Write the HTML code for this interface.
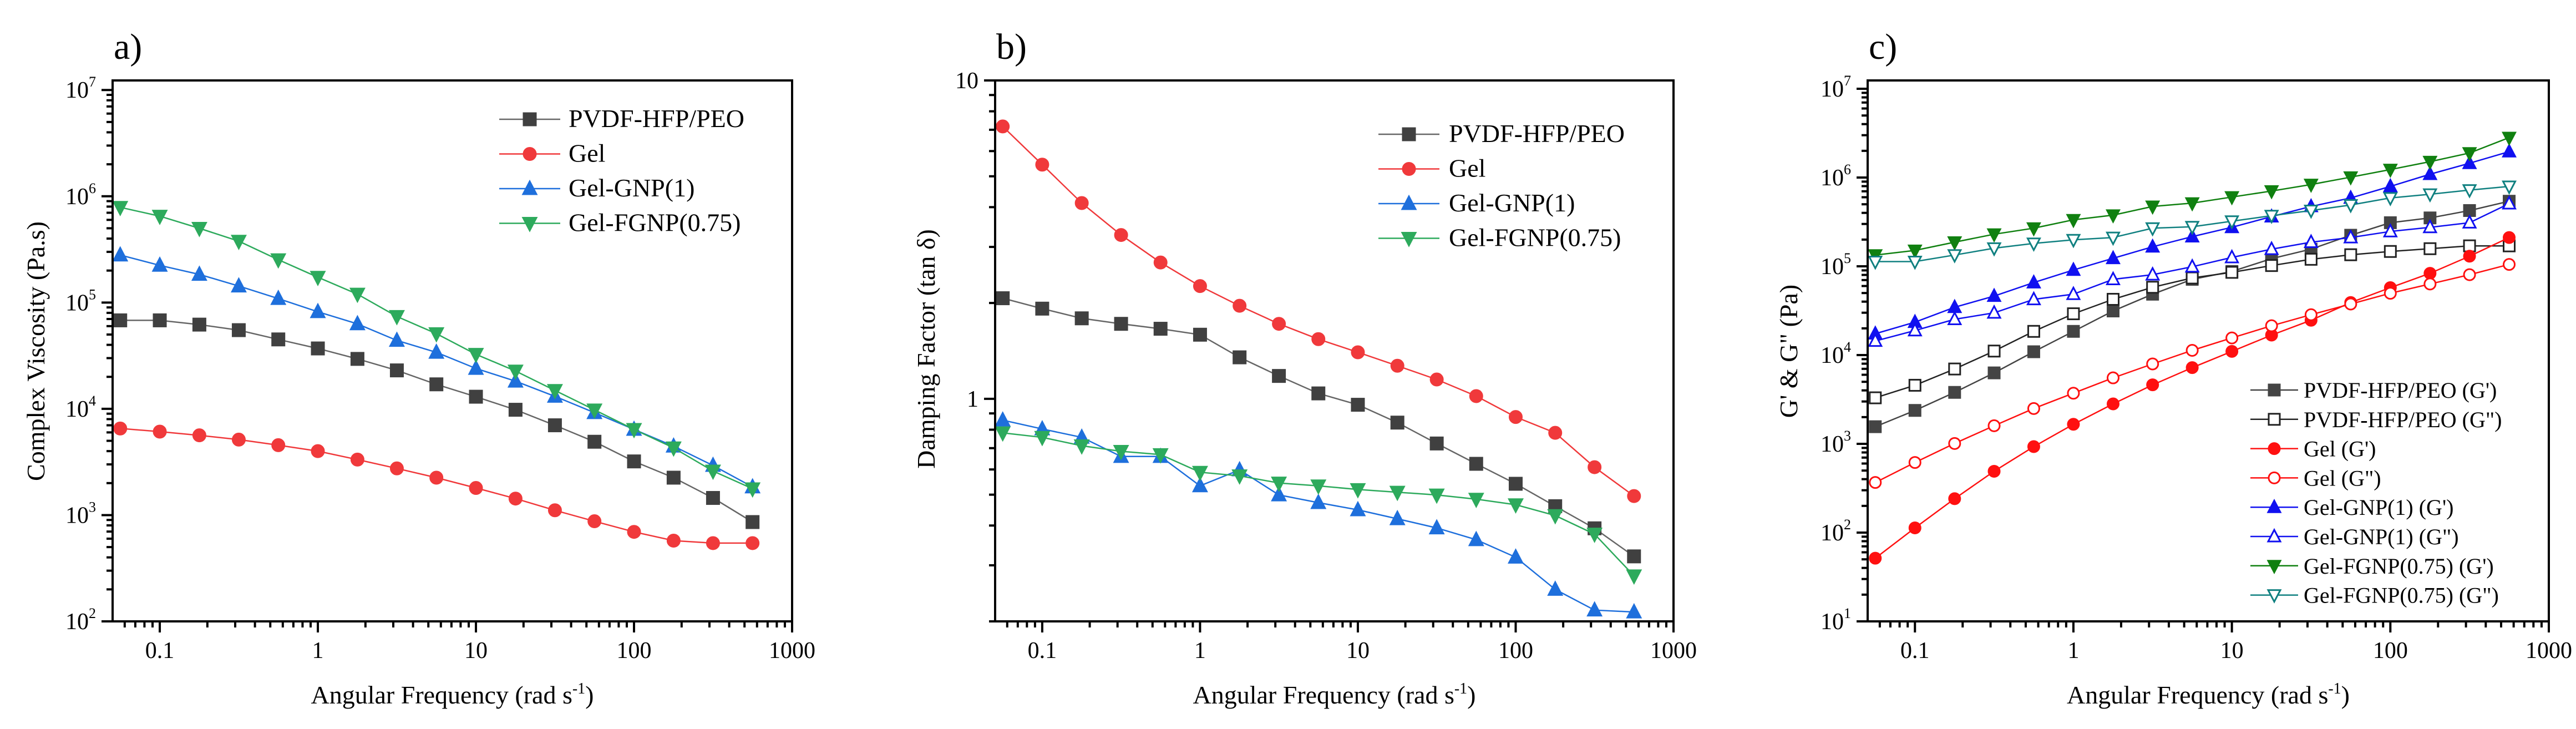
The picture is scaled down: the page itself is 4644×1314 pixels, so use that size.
<!DOCTYPE html>
<html><head><meta charset="utf-8">
<style>
html,body{margin:0;padding:0;background:#fff;}
svg{display:block;font-family:"Liberation Serif",serif;}
text{font-family:"Liberation Serif",serif;}
</style></head>
<body>
<svg id="fig" width="4644" height="1314" viewBox="0 0 4644 1314" xmlns="http://www.w3.org/2000/svg" font-family="Liberation Serif, serif"></svg>
<script>
// Shared frequency axis (rad/s)
const freqs = [0.0562,0.1,0.178,0.316,0.562,1,1.78,3.16,5.62,10,17.8,31.6,56.2,100,178,316,562];
const xTickLabels = ["0.1","1","10","100","1000"];

// Panel a: complex viscosity (Pa.s)
const aSeriesNames = ["PVDF-HFP/PEO","Gel","Gel-GNP(1)","Gel-FGNP(0.75)"];
const aPVDF = [68000,68000,62000,55000,45000,37000,29500,23000,17000,13000,9800,7000,4900,3200,2250,1450,860];
const aGel = [6530,6100,5630,5130,4550,4000,3330,2750,2250,1800,1430,1110,875,695,575,545,545];
const aGNP = [280000,224000,184000,143000,109000,82000,63000,44000,34000,24000,18200,13100,9200,6400,4450,2930,1840];
const aFGNP = [787000,650000,500000,378000,253000,173000,120000,74000,51000,32600,22700,14900,9770,6400,4290,2600,1770];
const aYTickExps = [2,3,4,5,6,7];

// Panel b: damping factor (tan delta)
const bSeriesNames = ["PVDF-HFP/PEO","Gel","Gel-GNP(1)","Gel-FGNP(0.75)"];
const bPVDF = [2.07,1.92,1.79,1.72,1.66,1.59,1.35,1.18,1.04,0.958,0.842,0.724,0.625,0.541,0.460,0.392,0.320];
const bGel = [7.17,5.44,4.12,3.27,2.68,2.26,1.96,1.72,1.54,1.40,1.27,1.15,1.02,0.877,0.782,0.610,0.495];
const bGNP = [0.857,0.804,0.757,0.659,0.659,0.533,0.598,0.499,0.472,0.448,0.420,0.393,0.361,0.318,0.252,0.217,0.214];
const bFGNP = [0.782,0.757,0.712,0.684,0.668,0.588,0.573,0.544,0.533,0.519,0.509,0.499,0.484,0.465,0.430,0.376,0.278];
const bYTickLabels = ["1","10"];

// Panel c: G' & G'' (Pa)
const cSeriesNames = ["PVDF-HFP/PEO (G')","PVDF-HFP/PEO (G\")","Gel (G')","Gel (G\")","Gel-GNP(1) (G')","Gel-GNP(1) (G\")","Gel-FGNP(0.75) (G')","Gel-FGNP(0.75) (G\")"];
const cPVDFg1 = [1560,2380,3800,6300,10900,18500,31400,48500,71300,87500,122000,156000,224000,310000,351000,425000,541000];
const cPVDFg2 = [3300,4570,6970,11100,18500,29200,42500,58100,73900,85500,102000,120000,135000,147000,158000,170000,170000];
const cGelg1 = [51.5,113,241,491,930,1660,2820,4620,7220,11000,16800,24700,39100,57500,83400,130000,211000];
const cGelg2 = [367,617,1010,1600,2500,3720,5540,7950,11300,15600,21400,28500,37600,49700,63200,80500,105000];
const cGNPg1 = [17400,23500,34600,46200,65600,90800,123000,166000,216000,275000,363000,473000,589000,795000,1090000,1450000,1960000];
const cGNPg2 = [14400,18900,25300,29900,42400,48500,71300,80500,98900,126000,156000,187000,211000,247000,275000,310000,509000];
const cFGNPg1 = [134000,151000,187000,230000,269000,334000,377000,473000,515000,603000,705000,834000,1010000,1230000,1510000,1890000,2820000];
const cFGNPg2 = [113000,113000,134000,160000,181000,199000,211000,269000,279000,322000,372000,425000,491000,589000,649000,723000,795000];
const cYTickExps = [1,2,3,4,5,6,7];

const NS = "http://www.w3.org/2000/svg";
const svg = document.getElementById('fig');
const FONT = '"Liberation Serif", serif';
function mk(tag, attrs, parent){
  const e = document.createElementNS(NS, tag);
  for (const k in attrs) e.setAttribute(k, attrs[k]);
  if (tag === 'text') e.setAttribute('font-family', FONT);
  (parent||svg).appendChild(e);
  return e;
}
const TOP = 145, BOT = 1120;

function makeAxes(left, right, ymin, ymax){
  const lx0 = Math.log10(0.0503), lx1 = 3;
  const ly0 = Math.log10(ymin), ly1 = Math.log10(ymax);
  return {
    x: v => left + (Math.log10(v) - lx0) / (lx1 - lx0) * (right - left),
    y: v => BOT - (Math.log10(v) - ly0) / (ly1 - ly0) * (BOT - TOP),
    left, right
  };
}

function marker(g, shape, cx, cy, color, filled, s){
  s = s || 11;
  const fill = filled ? color : '#fff';
  let el;
  if (shape === 'square') el = mk('rect', {x:cx-s, y:cy-s, width:2*s, height:2*s, fill, stroke:color, 'stroke-width':3}, g);
  else if (shape === 'circle') el = mk('circle', {cx, cy, r:s, fill, stroke:color, 'stroke-width':3}, g);
  else if (shape === 'up') el = mk('polygon', {points:`${cx},${cy-s-2} ${cx-s-1},${cy+s-1} ${cx+s+1},${cy+s-1}`, fill, stroke:color, 'stroke-width':3}, g);
  else el = mk('polygon', {points:`${cx},${cy+s+2} ${cx-s-1},${cy-s+1} ${cx+s+1},${cy-s+1}`, fill, stroke:color, 'stroke-width':3}, g);
  
  
}

function drawPanel(p){
  const ax = makeAxes(p.left, p.right, p.ymin, p.ymax);
  const g = mk('g', {});
  
  
  const lt = mk('text', {x:p.left+2, y:106, 'font-size':66}, g);
  lt.textContent = p.letter;
  
  
  p.series.forEach((s, si) => {
    const sg = mk('g', {}, g);
    
    
    const pts = s.vals.map((v,i) => ax.x(freqs[i]).toFixed(1) + ',' + ax.y(v).toFixed(1)).join(' ');
    const pl = mk('polyline', {points:pts, fill:'none', stroke:s.line||s.color, 'stroke-width':2.5}, sg);
    
    
    s.vals.forEach((v,i) => marker(sg, s.shape, ax.x(freqs[i]), ax.y(v), s.color, s.filled !== false, p.ms));
  });
  const fr = mk('rect', {x:p.left, y:TOP, width:p.right-p.left, height:BOT-TOP, fill:'none', stroke:'#000', 'stroke-width':4}, g);
  
  
  for (let d = -2; d <= 3; d++){
    for (let m = 1; m <= 9; m++){
      const v = m * Math.pow(10, d);
      if (v < 0.0503 || v > 1000.01) continue;
      const x = ax.x(v);
      mk('line', {x1:x, x2:x, y1:BOT, y2:BOT + (m===1 ? 20 : 11), stroke:'#000', 'stroke-width':4}, g);
    }
  }
  xTickLabels.forEach(t => {
    const tx = mk('text', {x:ax.x(parseFloat(t)), y:1186, 'font-size':42, 'text-anchor':'middle'}, g);
    tx.textContent = t;
    
    
  });
  const e0 = Math.floor(Math.log10(p.ymin)), e1 = Math.ceil(Math.log10(p.ymax));
  for (let d = e0; d <= e1; d++){
    for (let m = 1; m <= 9; m++){
      const v = m * Math.pow(10, d);
      if (v < p.ymin*0.999 || v > p.ymax) continue;
      const y = ax.y(v);
      mk('line', {x1:p.left - (m===1 ? 20 : 11), x2:p.left, y1:y, y2:y, stroke:'#000', 'stroke-width':4}, g);
    }
  }
  p.yLabels.forEach(l => {
    const y = ax.y(l.v);
    const tx = mk('text', {x:p.left - 30, y:y + 14, 'font-size':42, 'text-anchor':'end'}, g);
    if (l.exp !== undefined){
      tx.textContent = '10';
      const sp = mk('tspan', {'font-size':26, dy:-20}, tx);
      sp.textContent = String(l.exp);
    } else tx.textContent = l.text;
    
    
  });
  const xt = mk('text', {x:(p.left+p.right)/2, y:1268, 'font-size':46, 'text-anchor':'middle'}, g);
  xt.textContent = 'Angular Frequency (rad s';
  const sup = mk('tspan', {'font-size':28, dy:-18}, xt); sup.textContent = '-1';
  const cl = mk('tspan', {dy:18}, xt); cl.textContent = ')';
  
  
  const yt = mk('text', {x:0, y:0, 'font-size':46, 'text-anchor':'middle', transform:`translate(${p.ytx},${p.yty}) rotate(-90)`}, g);
  yt.textContent = p.ytitle;
  
  
  const lg = mk('g', {}, g);
  
  
  p.series.forEach((s, i) => {
    const y = p.leg.y0 + i * p.leg.dy;
    const eg = mk('g', {}, lg);
    
    
    mk('line', {x1:p.leg.x0, x2:p.leg.x1, y1:y, y2:y, stroke:s.line||s.color, 'stroke-width':2.5}, eg);
    marker(eg, s.shape, (p.leg.x0+p.leg.x1)/2, y, s.color, s.filled !== false, p.ms);
    const t = mk('text', {x:p.leg.tx, y:y + 14, 'font-size':p.leg.fs}, eg);
    t.textContent = s.name;
  });
}

const gray='#404040', red='#f0393b', blue='#1e6fdc', green='#2daa5c';
drawPanel({id:'panel-a', letter:'a)', left:203, right:1428, ymin:100, ymax:Math.pow(10,7.09), ms:11,
  yLabels:aYTickExps.map(e => ({v:Math.pow(10,e), exp:e})),
  ytitle:'Complex Viscosity (Pa.s)', ytx:80, yty:633,
  leg:{x0:900, x1:1010, tx:1025, y0:215, dy:62.5, fs:46},
  series:[
    {name:aSeriesNames[0], vals:aPVDF, color:gray, line:'#666', shape:'square'},
    {name:aSeriesNames[1], vals:aGel, color:red, shape:'circle'},
    {name:aSeriesNames[2], vals:aGNP, color:blue, shape:'up'},
    {name:aSeriesNames[3], vals:aFGNP, color:green, shape:'down'}]});
drawPanel({id:'panel-b', letter:'b)', left:1794, right:3017, ymin:0.2, ymax:10, ms:11,
  yLabels:bYTickLabels.map(t => ({v:parseFloat(t), text:t})),
  ytitle:'Damping Factor (tan \u03B4)', ytx:1685, yty:629,
  leg:{x0:2485, x1:2595, tx:2612, y0:242, dy:62.5, fs:46},
  series:[
    {name:bSeriesNames[0], vals:bPVDF, color:gray, line:'#666', shape:'square'},
    {name:bSeriesNames[1], vals:bGel, color:red, shape:'circle'},
    {name:bSeriesNames[2], vals:bGNP, color:blue, shape:'up'},
    {name:bSeriesNames[3], vals:bFGNP, color:green, shape:'down'}]});
const cg='#444', cr='#ff1010', cb='#1010f0', cgn='#108010', ct='#108080';
drawPanel({id:'panel-c', letter:'c)', left:3367, right:4595, ymin:10, ymax:Math.pow(10,7.094), ms:10,
  yLabels:cYTickExps.map(e => ({v:Math.pow(10,e), exp:e})),
  ytitle:'G\' & G" (Pa)', ytx:3240, yty:633,
  leg:{x0:4057, x1:4143, tx:4153, y0:703, dy:52.8, fs:40},
  series:[
    {name:cSeriesNames[0], vals:cPVDFg1, color:cg, shape:'square'},
    {name:cSeriesNames[1], vals:cPVDFg2, color:'#222', shape:'square', filled:false},
    {name:cSeriesNames[2], vals:cGelg1, color:cr, shape:'circle'},
    {name:cSeriesNames[3], vals:cGelg2, color:cr, shape:'circle', filled:false},
    {name:cSeriesNames[4], vals:cGNPg1, color:cb, shape:'up'},
    {name:cSeriesNames[5], vals:cGNPg2, color:cb, shape:'up', filled:false},
    {name:cSeriesNames[6], vals:cFGNPg1, color:cgn, shape:'down'},
    {name:cSeriesNames[7], vals:cFGNPg2, color:ct, shape:'down', filled:false}]});
</script>
</body></html>
